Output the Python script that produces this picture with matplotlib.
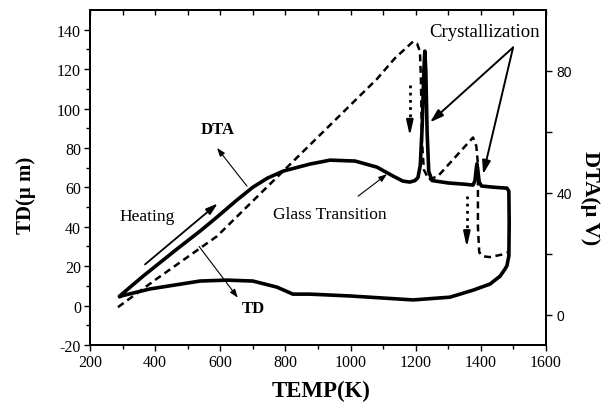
import matplotlib
matplotlib.use('Agg')
import matplotlib.pyplot as plt
from matplotlib.ticker import MultipleLocator, FixedLocator

plt.rcParams['font.family'] = 'Liberation Serif'
plt.rcParams['axes.unicode_minus'] = False

# TD trace (dashed), left axis, um
td_temp = [286, 400, 590, 1081, 1136, 1192, 1204, 1213, 1216, 1219, 1225, 1240, 1268,
           1376, 1386, 1391, 1391, 1395, 1407, 1428, 1468, 1480]
td_val = [-0.8, 13, 35.2, 115, 125.5, 134, 133, 129, 115, 84, 69, 64, 65.6,
          85.3, 81, 72, 40, 27, 25, 24.6, 26, 27]

# DTA trace (solid loop), right axis, uV
dta_temp = [292, 298, 363, 467, 538, 590, 650, 700, 745, 793, 875, 937, 1014, 1081, 1130,
            1161, 1182, 1198, 1207, 1214, 1220, 1225, 1228, 1231, 1235, 1240, 1250, 1300,
            1350, 1376, 1382, 1386, 1388, 1391, 1395, 1402, 1440, 1480, 1486, 1487, 1486,
            1480, 1474, 1459, 1428, 1376, 1305, 1192, 998, 875, 823, 774, 700, 620, 538,
            384, 292]
dta_val = [6.0, 6.7, 12.6, 21.5, 27.4, 32.0, 37.5, 41.8, 44.8, 47.1, 49.4, 50.7, 50.4, 48.4,
           45.5, 43.8, 43.5, 44.0, 45.0, 49, 62, 80, 86.5, 80, 60, 47, 44, 43.2,
           42.8, 42.5, 44, 48, 49.5, 47, 43.5, 42.2, 41.8, 41.5, 40.5, 30, 19.2,
           16.0, 14.9, 12.6, 10.0, 8.0, 5.7, 4.8, 6.1, 6.7, 6.7, 9.0, 11.0, 11.3, 11.0,
           8.4, 6.0]

# dotted arrows (temp, y_from, y_to) in TD units
dot_arrows = [(1182, 112, 86), (1357, 55.5, 29.5)]

fig = plt.figure(figsize=(6.15, 4.06), dpi=100)
ax = fig.add_axes([0.1463, 0.1478, 0.7415, 0.8251])
ax2 = ax.twinx()

ax.plot(td_temp, td_val, color='black', lw=1.8, dashes=(2.8, 1.8))
ax2.plot(dta_temp, dta_val, color='black', lw=2.6, solid_joinstyle='round')

for t, y0, y1 in dot_arrows:
    ax.plot([t, t], [y0, y1 + 6], color='black', lw=2.0, ls=(0, (1, 1.6)))
    ax.annotate('', xy=(t, y1), xytext=(t, y1 + 7),
                arrowprops=dict(arrowstyle='-|>,head_length=0.9,head_width=0.2',
                                color='black', lw=1.5, shrinkA=0, shrinkB=0))

ax.set_xlim(200, 1600)
ax.set_ylim(-20, 150)
ax2.set_ylim(-10, 100)

ax.xaxis.set_major_locator(MultipleLocator(200))
ax.xaxis.set_minor_locator(MultipleLocator(100))
ax.yaxis.set_major_locator(FixedLocator(range(-20, 141, 20)))
ax.yaxis.set_minor_locator(FixedLocator(range(-10, 150, 20)))
ax2.yaxis.set_major_locator(FixedLocator([0, 40, 80]))
ax2.yaxis.set_minor_locator(FixedLocator([20, 60]))

ax.tick_params(which='major', direction='out', length=4.5, width=1.0, labelsize=11.5, pad=2)
ax.tick_params(which='minor', direction='out', length=3, width=1.0)
ax2.tick_params(which='major', direction='out', length=4.5, width=1.0, labelsize=10, pad=3)
ax2.tick_params(which='minor', direction='out', length=4.5, width=1.0)
for lab in ax2.get_yticklabels():
    lab.set_fontfamily('Liberation Sans')

top = ax.secondary_xaxis('top')
top.xaxis.set_major_locator(MultipleLocator(200))
top.xaxis.set_minor_locator(MultipleLocator(100))
top.tick_params(which='both', direction='in', length=3.5, width=1.0, labeltop=False)

for a in (ax, ax2, top):
    for s in a.spines.values():
        s.set_linewidth(1.3)

ax.set_xlabel('TEMP(K)', fontsize=16.5, fontweight='bold')
ax.xaxis.set_label_coords(0.507, -0.105)
ax.set_ylabel('TD(\u03bc m)', fontsize=15, fontweight='bold')
ax.yaxis.set_label_coords(-0.118, 0.45)
ax2.set_ylabel('DTA(\u03bc V)', fontsize=16, fontweight='bold', rotation=270)
ax2.yaxis.set_label_coords(1.118, 0.44)

thin = dict(arrowstyle='-|>,head_length=0.5,head_width=0.18', color='black', lw=0.8,
            shrinkA=0, shrinkB=0)
ax.annotate('', xy=(590, 80), xytext=(682, 60.6), arrowprops=thin)
ax.text(593, 89.6, 'DTA', fontsize=12, fontweight='bold', ha='center', va='center')
ax.annotate('', xy=(654, 4), xytext=(535, 30), arrowprops=thin)
ax.text(702, -1, 'TD', fontsize=12, fontweight='bold', ha='center', va='center')

ax.text(375, 45.3, 'Heating', fontsize=12.5, ha='center', va='center')
ax.annotate('', xy=(592, 51.8), xytext=(369, 20.9),
            arrowprops=dict(arrowstyle='-|>,head_length=0.7,head_width=0.22', color='black',
                            lw=1.3, shrinkA=0, shrinkB=0))

ax.text(937, 46.3, 'Glass Transition', fontsize=12.5, ha='center', va='center')
ax.annotate('', xy=(1112, 66.7), xytext=(1023, 55.5), arrowprops=thin)

ax.text(1410, 139, 'Crystallization', fontsize=13.5, ha='center', va='center')
thick = dict(arrowstyle='-|>,head_length=0.8,head_width=0.25', color='black', lw=1.4,
             shrinkA=0, shrinkB=0)
ax.annotate('', xy=(1244, 93), xytext=(1499, 131), arrowprops=thick)
ax.annotate('', xy=(1407, 66.7), xytext=(1499, 131), arrowprops=thick)

fig.savefig('out.png', dpi=100)
